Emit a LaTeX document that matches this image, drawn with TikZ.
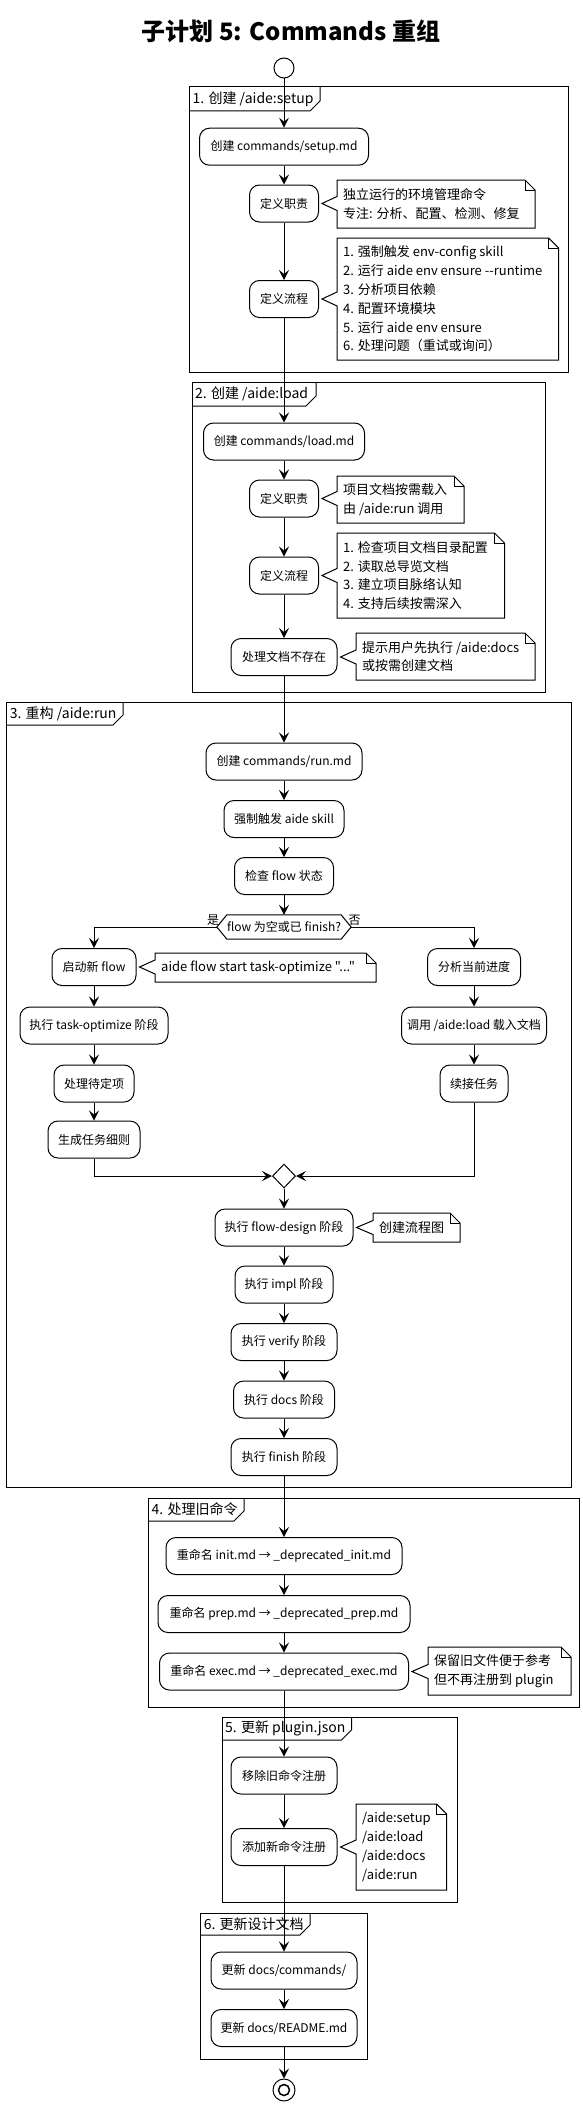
\documentclass[tikz,border=0pt]{standalone}
\usepackage{fontspec}
\setmainfont{Noto Sans CJK SC}[Ligatures=TeXOff]
\usetikzlibrary{arrows.meta,calc,shapes.geometric}

\tikzset{
  act/.style={draw, line width=1pt, rounded corners=10pt, fill=white, minimum height=37pt, inner xsep=4pt, inner ysep=0pt, font=\fontsize{12}{14}\selectfont},
  mw/.style={minimum width=#1},
  arr/.style={draw, line width=1pt, -{Stealth[length=10pt,width=10pt,inset=4pt]}},
  notetext/.style={align=left, inner sep=0pt, font=\fontsize{13}{18.8}\selectfont},
  grplabel/.style={inner sep=0pt, font=\fontsize{14}{16}\selectfont},
  frame/.style={draw, line width=1pt},
  brlabel/.style={inner sep=0pt, font=\fontsize{12}{14}\selectfont},
}

\newcommand\grp[8]{%
  \draw[frame] (#2,#3) rectangle (#4,#5);
  \draw[frame] (#2,#7) -- (#6-10,#7) -- (#6,#7-10) -- (#6,#3);
  \node[grplabel, anchor=west] (#1) at (#2+3,{(#3+#7)/2}) {#8};
}

\newcommand\mynote[7]{%
  \coordinate (#1-a) at (#3,#4);
  \draw[frame, fill=white] (#3,#4) -- (#5-10,#4) -- (#5,#4+10) -- (#5,#6) -- (#3,#6)
     -- ($(#1-a |- #2.east)+(0,7)$) -- ($(#2.east)+(3,0)$) -- ($(#1-a |- #2.east)+(0,-7)$) -- cycle;
  \draw[frame] (#5-10,#4) -- (#5-10,#4+10) -- (#5,#4+10);
  \node[notetext, anchor=west] (#1) at (#3+6,{(#4+#6)/2}) {#7};
}

\begin{document}
\begin{tikzpicture}[x=1pt,y=-1pt]
\useasboundingbox (0,0) rectangle (582,2106);
\fill[white] (0,0) rectangle (582,2106);

\node[font=\fontsize{24}{28}\selectfont\bfseries] (title) at (291,31) {子计划 5: Commands 重组};

% groups
\grp{g1}{189.5}{87}{568}{372}{320}{111}{1. 创建 /aide:setup}
\grp{g2}{192}{382}{545}{692}{316}{406}{2. 创建 /aide:load}
\grp{g3}{6.7}{702}{571.6}{1487}{123}{725}{3. 重构 /aide:run}
\grp{g4}{148.5}{1498}{579}{1707}{244}{1521}{4. 处理旧命令}
\grp{g5}{222}{1717}{457}{1902}{351.5}{1740}{5. 更新 plugin.json}
\grp{g6}{200.7}{1913}{367.5}{2059}{310}{1935}{6. 更新设计文档}

% start / end
\node[circle, draw, line width=1pt, minimum size=20pt, inner sep=0pt, fill=white] (start) at (284,68) {};

% activities
\node[act, mw=169] (n1) at (284,146.7) {创建 commands/setup.md};
\node[act, mw=69] (n2) at (284,203.5) {定义职责};
\node[act, mw=69] (n3) at (284,299) {定义流程};
\node[act, mw=161] (n4) at (284,441.5) {创建 commands/load.md};
\node[act, mw=69] (n5) at (284,498.5) {定义职责};
\node[act, mw=69] (n6) at (284,575.5) {定义流程};
\node[act, mw=106] (n7) at (284,657) {处理文档不存在};
\node[act, mw=156] (n8) at (284,761.5) {创建 commands/run.md};
\node[act, mw=120] (n9) at (284,819) {强制触发 aide skill};
\node[act, mw=99] (n10) at (284,876) {检查 flow 状态};

\node[inner sep=0pt, minimum width=109pt, minimum height=24pt, font=\fontsize{12}{14}\selectfont] (dec) at (284,927) {flow 为空或已 finish?};
\coordinate (decL) at ($(dec.west)+(-10,0)$);
\coordinate (decR) at ($(dec.east)+(10,0)$);
\draw[frame] (decL) -- (dec.north west) -- (dec.north east) -- (decR) -- (dec.south east) -- (dec.south west) -- cycle;
\node[brlabel] (yes) at (213,920.5) {是};
\node[brlabel] (no) at (354.5,920.5) {否};

\node[act, mw=84] (n11) at (94,967) {启动新 flow};
\node[act, mw=93] (n12) at (474,967) {分析当前进度};
\node[act, mw=148] (n13) at (94,1025.5) {执行 task-optimize 阶段};
\node[act, mw=145] (n14) at (474,1025.5) {调用 /aide:load 载入文档};
\node[act, mw=80] (n15) at (94,1083.5) {处理待定项};
\node[act, mw=68] (n16) at (474,1083.5) {续接任务};
\node[act, mw=92] (n17) at (94,1139.5) {生成任务细则};

\node[diamond, draw, line width=1pt, minimum width=23pt, minimum height=24pt, inner sep=0pt, fill=white] (dm) at (284,1176) {};

\node[act, mw=138] (n18) at (284,1227.5) {执行 flow-design 阶段};
\node[act, mw=98] (n19) at (284,1284.5) {执行 impl 阶段};
\node[act, mw=106] (n20) at (284,1342) {执行 verify 阶段};
\node[act, mw=101] (n21) at (284,1399.5) {执行 docs 阶段};
\node[act, mw=106] (n22) at (284,1457) {执行 finish 阶段};
\node[act, mw=236] (n23) at (284,1556) {重命名 init.md → \_deprecated\_init.md};
\node[act, mw=252] (n24) at (284,1614) {重命名 prep.md → \_deprecated\_prep.md};
\node[act, mw=249] (n25) at (284,1671.5) {重命名 exec.md → \_deprecated\_exec.md};
\node[act, mw=106] (n26) at (284,1775.5) {移除旧命令注册};
\node[act, mw=106] (n27) at (284,1847) {添加新命令注册};
\node[act, mw=146] (n28) at (284,1970.5) {更新 docs/commands/};
\node[act, mw=146] (n29) at (284,2028) {更新 docs/README.md};

\node[circle, draw, line width=1pt, minimum size=22pt, inner sep=0pt, fill=white] (end) at (284,2090) {};
\node[circle, draw, line width=1.5pt, minimum size=11pt, inner sep=0pt] (endin) at (284,2090) {};

% notes
\mynote{nt1}{n2}{337}{180}{535}{228}{独立运行的环境管理命令\\专注: 分析、配置、检测、修复}
\mynote{nt2}{n3}{337}{238}{558.6}{360}{1. 强制触发 env-config skill\\2. 运行 aide env ensure --runtime\\3. 分析项目依赖\\4. 配置环境模块\\5. 运行 aide env ensure\\6. 处理问题（重试或询问）}
\mynote{nt3}{n5}{337}{476}{464}{523}{项目文档按需载入\\由 /aide:run 调用}
\mynote{nt4}{n6}{337}{533}{504.5}{618}{1. 检查项目文档目录配置\\2. 读取总导览文档\\3. 建立项目脉络认知\\4. 支持后续按需深入}
\mynote{nt5}{n7}{356}{633}{535}{680}{提示用户先执行 /aide:docs\\或按需创建文档}
\mynote{nt6}{n11}{155}{953}{376}{982}{aide flow start task-optimize "..."}
\mynote{nt7}{n18}{373}{1213}{460}{1242}{创建流程图}
\mynote{nt8}{n25}{428}{1647}{571}{1695}{保留旧文件便于参考\\但不再注册到 plugin}
\mynote{nt9}{n27}{356}{1804}{446.6}{1890}{/aide:setup\\/aide:load\\/aide:docs\\/aide:run}

% connectors
\draw[arr] (start) -- (n1);
\draw[arr] (n1) -- (n2);
\draw[arr] (n2) -- (n3);
\draw[arr] (n3) -- (n4);
\draw[arr] (n4) -- (n5);
\draw[arr] (n5) -- (n6);
\draw[arr] (n6) -- (n7);
\draw[arr] (n7) -- (n8);
\draw[arr] (n8) -- (n9);
\draw[arr] (n9) -- (n10);
\draw[arr] (n10) -- (dec.north);
\draw[arr] (decL) -| (n11.north);
\draw[arr] (decR) -| (n12.north);
\draw[arr] (n11) -- (n13);
\draw[arr] (n13) -- (n15);
\draw[arr] (n15) -- (n17);
\draw[arr] (n12) -- (n14);
\draw[arr] (n14) -- (n16);
\draw[arr] (n17.south) |- (dm.west);
\draw[arr] (n16.south) |- (dm.east);
\draw[arr] (dm) -- (n18);
\draw[arr] (n18) -- (n19);
\draw[arr] (n19) -- (n20);
\draw[arr] (n20) -- (n21);
\draw[arr] (n21) -- (n22);
\draw[arr] (n22) -- (n23);
\draw[arr] (n23) -- (n24);
\draw[arr] (n24) -- (n25);
\draw[arr] (n25) -- (n26);
\draw[arr] (n26) -- (n27);
\draw[arr] (n27) -- (n28);
\draw[arr] (n28) -- (n29);
\draw[arr] (n29) -- (end);
\end{tikzpicture}
\end{document}
